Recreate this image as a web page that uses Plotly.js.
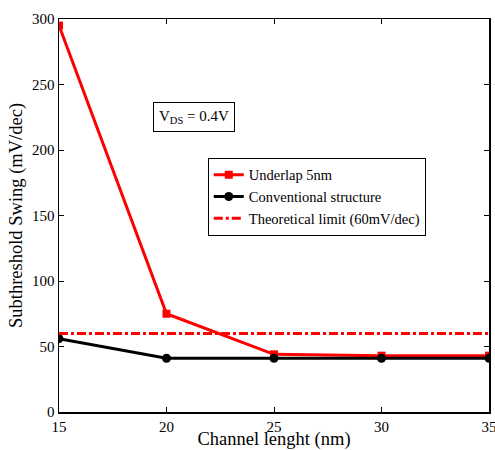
<!DOCTYPE html>
<html>
<head>
<meta charset="utf-8">
<script src="https://cdn.plot.ly/plotly-3.0.1.min.js"></script>
<style>html,body{margin:0;padding:0;background:#fff;}#chart{width:495px;height:450px;}</style>
</head>
<body>
<div id="chart"></div>
<script>
const channelLength = [15, 20, 25, 30, 35];
const underlap5nm = [295, 75, 44, 43, 43];
const conventional = [56, 41, 41, 41, 41];
const theoreticalX = [15, 35];
const theoreticalLimit = [60, 60];
const xTicks = [15, 20, 25, 30, 35];
const yTicks = [0, 50, 100, 150, 200, 250, 300];

const font = {family: '"Liberation Serif", "Times New Roman", serif', color: '#000'};

const traces = [
  {x: channelLength, y: underlap5nm, name: 'Underlap 5nm', mode: 'lines+markers',
   line: {color: '#ff0000', width: 3}, marker: {symbol: 'square', size: 8, color: '#ff0000'}},
  {x: channelLength, y: conventional, name: 'Conventional structure', mode: 'lines+markers',
   line: {color: '#000000', width: 3}, marker: {symbol: 'circle', size: 9, color: '#000000'}},
  {x: theoreticalX, y: theoreticalLimit, name: 'Theoretical limit (60mV/dec)', mode: 'lines',
   line: {color: '#ff0000', width: 3, dash: 'dashdot'}}
];

const axisCommon = {
  showgrid: false, zeroline: false, showline: true, linecolor: '#000', linewidth: 1.5,
  mirror: 'ticks', ticks: 'inside', ticklen: 5, tickcolor: '#000',
  ticklabeloverflow: 'allow',
  tickfont: Object.assign({size: 15}, font)
};

const layout = {
  width: 495, height: 450,
  margin: {l: 59, r: 6, t: 19, b: 38},
  paper_bgcolor: '#fff', plot_bgcolor: '#fff',
  font: font,
  showlegend: true,
  legend: {x: 0.346, y: 0.647, xanchor: 'left', yanchor: 'top',
    bordercolor: '#000', borderwidth: 1, bgcolor: '#fff',
    font: Object.assign({size: 14.5}, font), tracegroupgap: 0, itemwidth: 30},
  xaxis: Object.assign({}, axisCommon, {range: [15, 35], tickvals: xTicks,
    title: {text: 'Channel lenght (nm)', font: Object.assign({size: 18.5}, font), standoff: 5}}),
  yaxis: Object.assign({}, axisCommon, {range: [0, 300], tickvals: yTicks,
    title: {text: 'Subthreshold Swing (mV/dec)', font: Object.assign({size: 18.5}, font), standoff: 4}}),
  annotations: [{
    x: 21.3, y: 225, xref: 'x', yref: 'y', showarrow: false,
    text: 'V<sub>DS</sub> = 0.4V', font: Object.assign({size: 15}, font),
    bordercolor: '#000', borderwidth: 1, borderpad: 5, bgcolor: '#fff'
  }]
};

Plotly.newPlot('chart', traces, layout, {displayModeBar: false, staticPlot: true});
</script>
</body>
</html>
